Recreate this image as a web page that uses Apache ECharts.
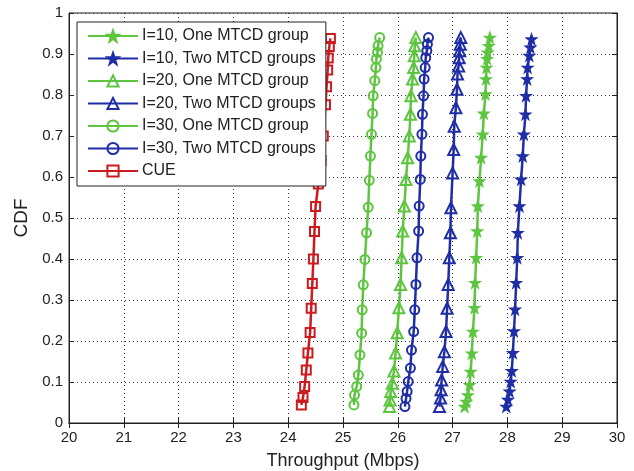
<!DOCTYPE html>
<html>
<head>
<meta charset="utf-8">
<script src="https://cdn.jsdelivr.net/npm/echarts@6/dist/echarts.min.js"></script>
<style>
  html, body { margin: 0; padding: 0; background: #fff; }
  #chart { width: 634px; height: 471px; }
</style>
</head>
<body>
<div id="chart"></div>
<script>
// Throughput CDF curves: each point is [throughput in Mbps, CDF]
const seriesNames = [
  'I=10, One MTCD group',
  'I=10, Two MTCD groups',
  'I=20, One MTCD group',
  'I=20, Two MTCD groups',
  'I=30, One MTCD group',
  'I=30, Two MTCD groups',
  'CUE'
];

const i10One = [
  [27.22,0.040],[27.25,0.052],[27.28,0.068],[27.31,0.093],[27.33,0.125],[27.35,0.170],
  [27.37,0.223],[27.40,0.281],[27.41,0.342],[27.43,0.403],[27.45,0.468],[27.46,0.529],
  [27.49,0.590],[27.52,0.647],[27.55,0.704],[27.57,0.755],[27.60,0.802],[27.61,0.839],
  [27.62,0.867],[27.63,0.888],[27.64,0.904],[27.66,0.920],[27.68,0.940]
];
const i10Two = [
  [27.98,0.040],[28.01,0.057],[28.04,0.077],[28.06,0.101],[28.08,0.127],[28.10,0.171],
  [28.12,0.224],[28.14,0.277],[28.16,0.342],[28.18,0.403],[28.19,0.464],[28.22,0.529],
  [28.25,0.594],[28.28,0.651],[28.30,0.704],[28.33,0.753],[28.34,0.798],[28.36,0.839],
  [28.37,0.867],[28.40,0.896],[28.42,0.916],[28.44,0.936]
];
const i20One = [
  [25.85,0.040],[25.86,0.056],[25.87,0.077],[25.90,0.097],[25.93,0.127],[25.96,0.171],
  [25.99,0.220],[26.02,0.281],[26.05,0.338],[26.07,0.403],[26.09,0.468],[26.12,0.529],
  [26.15,0.594],[26.18,0.647],[26.21,0.700],[26.23,0.753],[26.24,0.798],[26.27,0.839],
  [26.29,0.867],[26.30,0.896],[26.31,0.920],[26.33,0.940]
];
const i20Two = [
  [26.76,0.040],[26.78,0.061],[26.79,0.081],[26.80,0.105],[26.82,0.138],[26.85,0.174],
  [26.88,0.223],[26.90,0.280],[26.92,0.338],[26.94,0.403],[26.96,0.464],[26.97,0.525],
  [27.00,0.610],[27.02,0.667],[27.03,0.724],[27.06,0.769],[27.08,0.814],[27.09,0.851],
  [27.11,0.871],[27.12,0.891],[27.13,0.908],[27.14,0.924],[27.15,0.940]
];
const i30One = [
  [25.20,0.044],[25.21,0.068],[25.25,0.089],[25.28,0.117],[25.31,0.166],[25.34,0.219],
  [25.35,0.276],[25.37,0.337],[25.40,0.399],[25.43,0.464],[25.46,0.526],[25.48,0.592],
  [25.50,0.651],[25.52,0.704],[25.54,0.755],[25.55,0.798],[25.58,0.835],[25.60,0.867],
  [25.61,0.888],[25.63,0.904],[25.64,0.920],[25.67,0.940]
];
const i30Two = [
  [26.13,0.040],[26.15,0.060],[26.17,0.077],[26.19,0.101],[26.23,0.134],[26.25,0.178],
  [26.29,0.223],[26.31,0.276],[26.33,0.338],[26.35,0.403],[26.38,0.468],[26.39,0.529],
  [26.41,0.594],[26.42,0.651],[26.44,0.704],[26.45,0.753],[26.47,0.798],[26.48,0.839],
  [26.50,0.867],[26.51,0.891],[26.53,0.908],[26.54,0.924],[26.56,0.940]
];
const cue = [
  [24.24,0.044],[24.27,0.062],[24.30,0.089],[24.33,0.129],[24.36,0.171],[24.40,0.221],
  [24.42,0.280],[24.44,0.340],[24.46,0.400],[24.48,0.467],[24.50,0.528],[24.55,0.583],
  [24.60,0.640],[24.64,0.700],[24.68,0.776],[24.70,0.820],[24.72,0.861],[24.73,0.890],
  [24.75,0.918],[24.77,0.938]
];

const xTicks = [20, 21, 22, 23, 24, 25, 26, 27, 28, 29, 30];
const yTicks = [0, 0.1, 0.2, 0.3, 0.4, 0.5, 0.6, 0.7, 0.8, 0.9, 1];

const GREEN = '#5ec540';
const BLUE = '#1f2ea6';
const RED = '#cc1a1f';
const FONT = '"Liberation Sans", Arial, sans-serif';

const STAR = 'path://M0,-10L2.35,-3.24L9.51,-3.09L3.8,1.24L5.88,8.09L0,4L-5.88,8.09L-3.8,1.24L-9.51,-3.09L-2.35,-3.24Z';

function curve(name, data, color, symbol, size, filled) {
  return {
    name: name,
    type: 'line',
    data: data,
    symbol: symbol,
    symbolSize: size,
    showAllSymbol: true,
    animation: false,
    lineStyle: { color: color, width: 2.5 },
    itemStyle: filled
      ? { color: color, borderColor: color, borderWidth: 1.5 }
      : { color: 'rgba(255,255,255,0)', borderColor: color, borderWidth: 2 },
    emphasis: { disabled: true }
  };
}

const chart = echarts.init(document.getElementById('chart'), null, { renderer: 'canvas' });

const xBase = {
  type: 'value', min: xTicks[0], max: xTicks[xTicks.length - 1], interval: 1
};
const yBase = {
  type: 'value', min: yTicks[0], max: yTicks[yTicks.length - 1], interval: 0.1
};

chart.setOption({
  backgroundColor: '#fff',
  animation: false,
  grid: {
    left: 69, right: 17, top: 13, bottom: 48,
    outerBoundsMode: 'none',
    containLabel: false,
    show: true, borderColor: '#222', borderWidth: 1, backgroundColor: '#fff'
  },
  legend: {
    orient: 'vertical',
    left: 77, top: 22,
    backgroundColor: '#fff',
    borderColor: '#222', borderWidth: 1, borderRadius: 0,
    padding: [6, 10, 7, 10],
    itemWidth: 50, itemHeight: 14, itemGap: 6.5,
    textStyle: { fontFamily: FONT, fontSize: 16, color: '#222', lineHeight: 16, padding: [0, 0, 0, -1] },
    data: seriesNames
  },
  xAxis: [
    Object.assign({}, xBase, {
      position: 'bottom',
      name: 'Throughput (Mbps)', nameLocation: 'middle', nameGap: 29,
      nameTextStyle: { fontFamily: FONT, fontSize: 18, color: '#222' },
      axisLine: { show: true, lineStyle: { color: '#222', width: 1 } },
      axisTick: { show: true, inside: true, length: 5, lineStyle: { color: '#222' } },
      axisLabel: { fontFamily: FONT, fontSize: 15, color: '#222', margin: 7 },
      splitLine: { show: true, lineStyle: { color: '#333', width: 1, type: [1, 3] } }
    }),
    Object.assign({}, xBase, {
      position: 'top',
      axisLine: { show: true, lineStyle: { color: '#222', width: 1 } },
      axisTick: { show: true, inside: true, length: 5, lineStyle: { color: '#222' } },
      axisLabel: { show: false },
      splitLine: { show: false }
    })
  ],
  yAxis: [
    Object.assign({}, yBase, {
      position: 'left',
      name: 'CDF', nameLocation: 'middle', nameGap: 37, nameRotate: 90,
      nameTextStyle: { fontFamily: FONT, fontSize: 19, color: '#222' },
      axisLine: { show: true, lineStyle: { color: '#222', width: 1 } },
      axisTick: { show: true, inside: true, length: 5, lineStyle: { color: '#222' } },
      axisLabel: { fontFamily: FONT, fontSize: 15, color: '#222', margin: 6 },
      splitLine: { show: true, lineStyle: { color: '#333', width: 1, type: [1, 3] } }
    }),
    Object.assign({}, yBase, {
      position: 'right',
      axisLine: { show: true, lineStyle: { color: '#222', width: 1 } },
      axisTick: { show: true, inside: true, length: 5, lineStyle: { color: '#222' } },
      axisLabel: { show: false },
      splitLine: { show: false }
    })
  ],
  series: [
    curve(seriesNames[0], i10One, GREEN, STAR, 10, true),
    curve(seriesNames[1], i10Two, BLUE, STAR, 10, true),
    curve(seriesNames[2], i20One, GREEN, 'triangle', 11, false),
    curve(seriesNames[3], i20Two, BLUE, 'triangle', 11, false),
    curve(seriesNames[4], i30One, GREEN, 'circle', 9, false),
    curve(seriesNames[5], i30Two, BLUE, 'circle', 9, false),
    curve(seriesNames[6], cue, RED, 'rect', 9, false)
  ]
});
</script>
</body>
</html>
